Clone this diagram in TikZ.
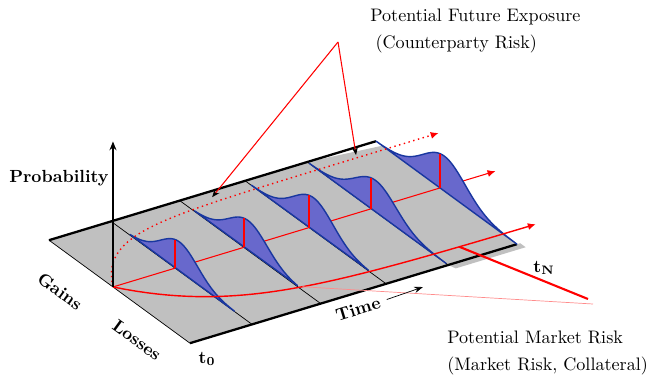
\documentclass[tikz,border=0pt]{standalone}
\usepackage{amsmath}
\usepackage{tikz}
\usetikzlibrary{arrows,arrows.meta}

\definecolor{planegray}{RGB}{192,192,192}
\definecolor{distfill}{RGB}{104,104,204}
\definecolor{distline}{RGB}{25,55,160}

\tikzset{
  redarrow/.style={red, -{Latex[length=4.5pt,width=4pt]}},
  pointer/.style={red, semithick, -{Stealth[black,length=4.5pt,width=3.5pt]}},
  label/.style={font=\fontsize{10.3pt}{15pt}\selectfont, align=left, anchor=west, inner sep=0pt},
}

\begin{document}
\begin{tikzpicture}[x=0.02cm,y=-0.02cm]
\useasboundingbox (0,0) rectangle (646,380);

% the plane: x = time, y = gains, z = probability
\begin{scope}[shift={(2.26cm,-5.74cm)},x={(1.308cm,0.396cm)},y={(-2.82cm,2.06cm)},z={(0cm,0.6cm)}]
\coordinate (A) at (0,0.454);
\coordinate (B) at (5,0.454);
\coordinate (C) at (5,-0.546);
\coordinate (D) at (0,-0.546);
\fill[planegray] (A) -- (3.95,0.454) -- (5,0.41) -- (C) -- (D) -- cycle;
\fill[planegray] (3.95,-0.546) -- (5.05,-0.546) -- (5.05,-0.585) -- (3.98,-0.585) -- cycle;
\draw[line width=1.3pt] (A) -- (B);
\draw[line width=1.3pt] (D) -- (C);
\draw[thin] (A) -- (D);
\foreach \tk in {0.95,2,3,3.95}
  \draw[thin] (\tk,0.454) -- (\tk,-0.546);

% expected path
\draw[redarrow, semithick] (0,0) -- (5.85,0);

% distributions
\foreach \tk/\ga/\gb/\h/\s in {0.95/-0.42/0.32/0.98/0.13, 2/-0.38/0.35/1.0/0.135,
    3/-0.42/0.41/1.1/0.14, 3.95/-0.53/0.44/1.05/0.145, 5/-0.546/0.454/1.17/0.15}
{
  \filldraw[fill=distfill, draw=distline, thick, line join=round]
    plot[domain=\ga:\gb, samples=70] (\tk,\x,{\h*exp(0-(\x+0.03)*(\x+0.03)/(2*\s*\s))}) -- cycle;
  \draw[red, line width=1.1pt] (\tk,0,0) -- (\tk,0,{\h*exp(0-0.0009/(2*\s*\s))});
}

% upper and lower quantiles
\draw[redarrow, thick, dotted] plot[domain=0:5.8, samples=60] (\x,{0.38*(1-exp(-1.6*\x))});
\draw[redarrow, thick] plot[domain=0:5.5, samples=60] (\x,{-0.45*(1-exp(-\x))});

% probability axis
\draw[semithick, -{Stealth[length=5pt,width=4pt]}] (0,0,0) -- (0,0,4.85);

\coordinate (pfe1) at (2.4,0.41);
\coordinate (pfe2) at (4.58,0.40);
\coordinate (mr1) at (4.34,{-0.45*(1-exp(-4.34))});
\coordinate (mr2) at (2.05,{-0.45*(1-exp(-2.05))});
\end{scope}

% pointers
\coordinate (apex) at (338,42);
\draw[pointer] (apex) -- (pfe1);
\draw[pointer] (apex) -- (pfe2);
\coordinate (mrend1) at (588,299);
\coordinate (mrend2) at (593,304);
\draw[red, line width=1.2pt] (mr1) -- (mrend1);
\draw[red!45, thin] (mr2) -- (mrend2);

% labels
\node[label] (pfe) at (370,31) {Potential Future Exposure\\\hspace{3pt}(Counterparty Risk)};
\node[label] (mrisk) at (447,353) {Potential Market Risk\\(Market Risk, Collateral)};
\node[font=\bfseries] (prob) at (59,178) {Probability};
\node[font=\bfseries, rotate=-36] (gains) at (60,291) {Gains};
\node[font=\bfseries, rotate=-36] (losses) at (137,340) {Losses};
\node[font=\bfseries, rotate=17] (time) at (358,309) {Time};
\coordinate (timeend) at (423,287);
\draw[-{Stealth[length=5pt,width=3.5pt]}] (time.east) ++(1,-1) -- (timeend);
\node[font=\bfseries] (t0) at (207,359) {t\textsubscript{0}};
\node[font=\bfseries] (tN) at (544,268) {t\textsubscript{N}};
\end{tikzpicture}
\end{document}
